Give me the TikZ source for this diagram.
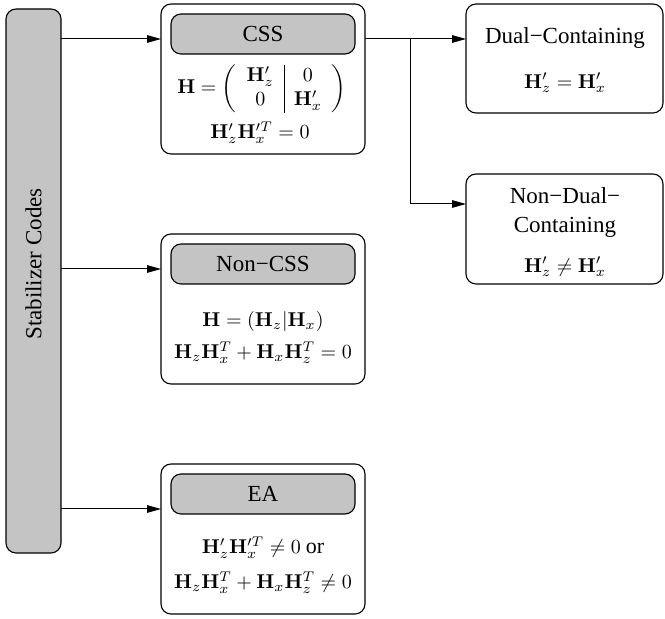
\documentclass[tikz,border=0pt]{standalone}
\usepackage[no-math]{fontspec}
\setmainfont{Liberation Serif}
\usetikzlibrary{arrows.meta}
\definecolor{labelgray}{RGB}{196,196,196}
\begin{document}
\begin{tikzpicture}[x=0.5pt,y=-0.5pt,
  every node/.style={inner sep=0pt,outer sep=0pt,font=\fontsize{11.5}{14}\selectfont},
  formula/.style={font=\fontsize{10}{12}\selectfont},
  outerbox/.style={draw,line width=0.55pt,rounded corners=5pt,fill=white},
  labelbox/.style={draw,line width=0.55pt,rounded corners=5pt,fill=labelgray},
  link/.style={line width=0.5pt,-{Triangle[length=7pt,width=3.8pt]}},
  plain/.style={line width=0.5pt}]
\useasboundingbox (0,0) rectangle (665,619);

% left bar
\node[labelbox,minimum width=27.5pt,minimum height=272pt] (bar) at (33.5,281) {};
\node[rotate=90] (bartext) at (33.5,264) {Stabilizer Codes};

% CSS
\node[outerbox,minimum width=102pt,minimum height=75pt] (css) at (263,79) {};
\node[labelbox,minimum width=92pt,minimum height=20pt] (csslab) at (263,34) {CSS};
\node[formula] (cssmat) at (262,89) {$\mathbf{H}=\left(\begin{array}{c|c}\mathbf{H}'_z & 0\\ 0 & \mathbf{H}'_x\end{array}\right)$};
\node[formula] (csscond) at (260,133) {$\mathbf{H}'_z\mathbf{H}'^{T}_x=0$};

% Non-CSS
\node[outerbox,minimum width=102pt,minimum height=75pt] (ncss) at (263,309) {};
\node[labelbox,minimum width=92pt,minimum height=20pt] (ncsslab) at (263,264) {Non−CSS};
\node[formula] (ncssa) at (263,322) {$\mathbf{H}=(\mathbf{H}_z|\mathbf{H}_x)$};
\node[formula] (ncssb) at (263,353) {$\mathbf{H}_z\mathbf{H}_x^T+\mathbf{H}_x\mathbf{H}_z^T=0$};

% EA
\node[outerbox,minimum width=102pt,minimum height=75pt] (ea) at (263,539) {};
\node[labelbox,minimum width=92pt,minimum height=20pt] (ealab) at (263,494) {EA};
\node[formula] (eaa) at (263,548) {$\mathbf{H}'_z\mathbf{H}'^{T}_x\neq 0$ {\fontsize{11}{12}\selectfont or}};
\node[formula] (eab) at (263,583) {$\mathbf{H}_z\mathbf{H}_x^T+\mathbf{H}_x\mathbf{H}_z^T\neq 0$};

% Dual-containing
\node[outerbox,minimum width=98.5pt,minimum height=54.5pt] (dual) at (564.5,58.5) {};
\node (dualname) at (565,38) {Dual−Containing};
\node[formula] (dualeq) at (565,83) {$\mathbf{H}'_z=\mathbf{H}'_x$};

% Non-dual-containing
\node[outerbox,minimum width=98.5pt,minimum height=55pt] (ndual) at (564.5,229) {};
\node (ndualname) at (565,212.5) {\begin{tabular}{@{}c@{}}Non−Dual−\\[0.5pt]Containing\end{tabular}};
\node[formula] (ndualeq) at (565,267) {$\mathbf{H}'_z\neq\mathbf{H}'_x$};

% connector heights
\coordinate (r1) at (0,39);
\coordinate (r2) at (0,269);
\coordinate (r3) at (0,509);
\coordinate (r4) at (0,204);
\coordinate (fork) at (410,39);

\draw[link] (bar.east |- r1) -- (css.west |- r1);
\draw[link] (bar.east |- r2) -- (ncss.west |- r2);
\draw[link] (bar.east |- r3) -- (ea.west |- r3);
\draw[link] (css.east |- r1) -- (dual.west |- r1);
\draw[link] (fork) |- (ndual.west |- r4);
\end{tikzpicture}
\end{document}
